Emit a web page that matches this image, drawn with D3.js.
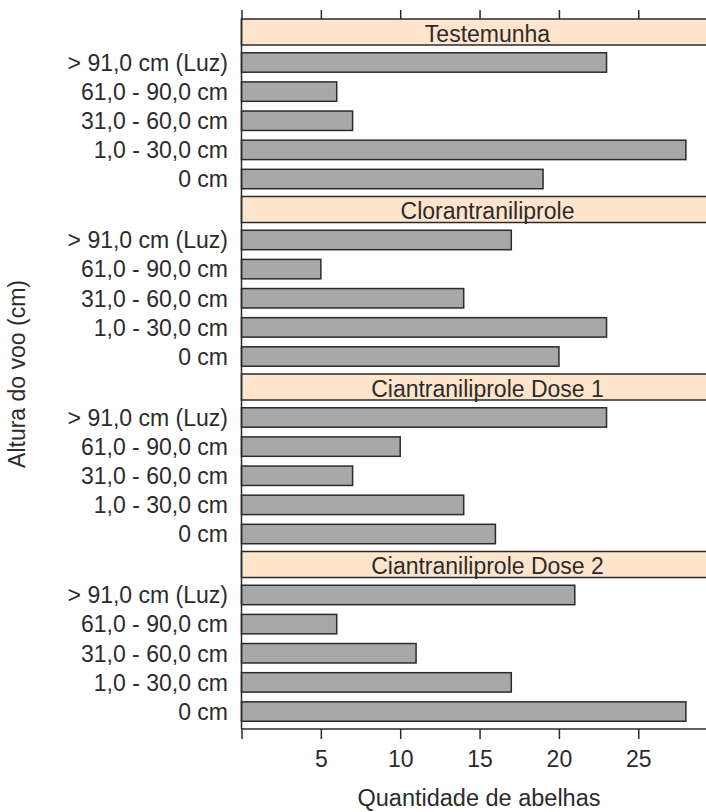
<!DOCTYPE html>
<html>
<head>
<meta charset="utf-8">
<script src="https://cdn.jsdelivr.net/npm/d3@7"></script>
<style>
  html, body { margin: 0; padding: 0; background: #fff; }
  svg { display: block; font-family: "Liberation Sans", Arial, sans-serif; }
</style>
</head>
<body>
<svg id="chart" width="706" height="812"></svg>
<script>
const GROUPS = ['Testemunha', 'Clorantraniliprole', 'Ciantraniliprole Dose 1', 'Ciantraniliprole Dose 2'];
const HEIGHTS = ['> 91,0 cm (Luz)', '61,0 - 90,0 cm', '31,0 - 60,0 cm', '1,0 - 30,0 cm', '0 cm'];
const TESTEMUNHA = [23, 6, 7, 28, 19];
const CLORANTRANILIPROLE = [17, 5, 14, 23, 20];
const CIANTRANILIPROLE_D1 = [23, 10, 7, 14, 16];
const CIANTRANILIPROLE_D2 = [21, 6, 11, 17, 28];
const X_TICKS = [0, 5, 10, 15, 20, 25];
const X_LABELS = [5, 10, 15, 20, 25];

const SERIES = [TESTEMUNHA, CLORANTRANILIPROLE, CIANTRANILIPROLE_D1, CIANTRANILIPROLE_D2];

const STRIP_BG = '#ffe5cc';
const BAR_FILL = '#a8a8a8';
const INK = '#2b2b2b';
const FONT = 23;

const svg = d3.select('#chart');
const W = 706;
const plotTop = 19;
const plotBottom = 729;
const stripH = 26;

const x = d3.scaleLinear().domain([0, 31]).range([241.5, 733.5]);
const row = d3.scaleBand().domain(GROUPS).range([plotTop, plotBottom]).padding(0);
const panelH = row.bandwidth() - stripH;
const y = d3.scaleBand()
  .domain(HEIGHTS)
  .range([0, panelH])
  .paddingInner(1 / 3)
  .paddingOuter(0.2667);

GROUPS.forEach((group, gi) => {
  const top = row(group);
  const g = svg.append('g').attr('transform', `translate(0,${top})`);

  g.append('rect')
    .attr('x', x(0))
    .attr('y', 0)
    .attr('width', x.range()[1] - x(0))
    .attr('height', stripH)
    .attr('fill', STRIP_BG)
    .attr('stroke', INK)
    .attr('stroke-width', 1.5);

  g.append('text')
    .attr('x', (x.range()[0] + x.range()[1]) / 2)
    .attr('y', stripH - 3.5)
    .attr('text-anchor', 'middle')
    .attr('fill', INK)
    .attr('font-size', FONT)
    .text(group);

  const panel = g.append('g').attr('transform', `translate(0,${stripH})`);
  const rows = HEIGHTS.map((h, i) => ({ h, v: SERIES[gi][i] }));

  panel.selectAll('rect.bar').data(rows).join('rect')
    .attr('class', 'bar')
    .attr('x', x(0))
    .attr('y', d => y(d.h))
    .attr('width', d => x(d.v) - x(0))
    .attr('height', y.bandwidth())
    .attr('fill', BAR_FILL)
    .attr('stroke', INK)
    .attr('stroke-width', 1.5);

  panel.selectAll('text.cat').data(rows).join('text')
    .attr('class', 'cat')
    .attr('x', 228)
    .attr('y', d => y(d.h) + y.bandwidth() / 2)
    .attr('dy', '0.36em')
    .attr('text-anchor', 'end')
    .attr('fill', INK)
    .attr('font-size', FONT)
    .text(d => d.h);
});

// panel frame: left border and bottom border
svg.append('line')
  .attr('x1', x(0)).attr('x2', x(0))
  .attr('y1', plotTop).attr('y2', plotBottom)
  .attr('stroke', INK)
  .attr('stroke-width', 1.5);

svg.append('line')
  .attr('x1', x(0)).attr('x2', W + 10)
  .attr('y1', plotBottom).attr('y2', plotBottom)
  .attr('stroke', INK)
  .attr('stroke-width', 1.5);

svg.append('g')
  .attr('transform', `translate(0,${plotTop})`)
  .call(d3.axisTop(x).tickValues(X_TICKS).tickSize(9).tickFormat(''))
  .call(axis => axis.select('.domain').remove())
  .call(axis => axis.selectAll('line').attr('stroke', INK).attr('stroke-width', 1.5));

svg.append('g')
  .attr('transform', `translate(0,${plotBottom})`)
  .call(d3.axisBottom(x).tickValues(X_TICKS).tickSize(10).tickPadding(12)
    .tickFormat(d => (X_LABELS.includes(d) ? d : '')))
  .call(axis => axis.select('.domain').remove())
  .call(axis => axis.selectAll('line').attr('stroke', INK).attr('stroke-width', 1.5))
  .call(axis => axis.selectAll('text')
    .attr('fill', INK)
    .attr('font-size', FONT)
    .attr('font-family', '"Liberation Sans", Arial, sans-serif'));

svg.append('text')
  .attr('x', 479)
  .attr('y', 806)
  .attr('text-anchor', 'middle')
  .attr('fill', INK)
  .attr('font-size', 23.5)
  .text('Quantidade de abelhas');

svg.append('text')
  .attr('transform', `translate(25,${(plotTop + plotBottom) / 2}) rotate(-90)`)
  .attr('text-anchor', 'middle')
  .attr('fill', INK)
  .attr('font-size', 23)
  .text('Altura do voo (cm)');
</script>
</body>
</html>
